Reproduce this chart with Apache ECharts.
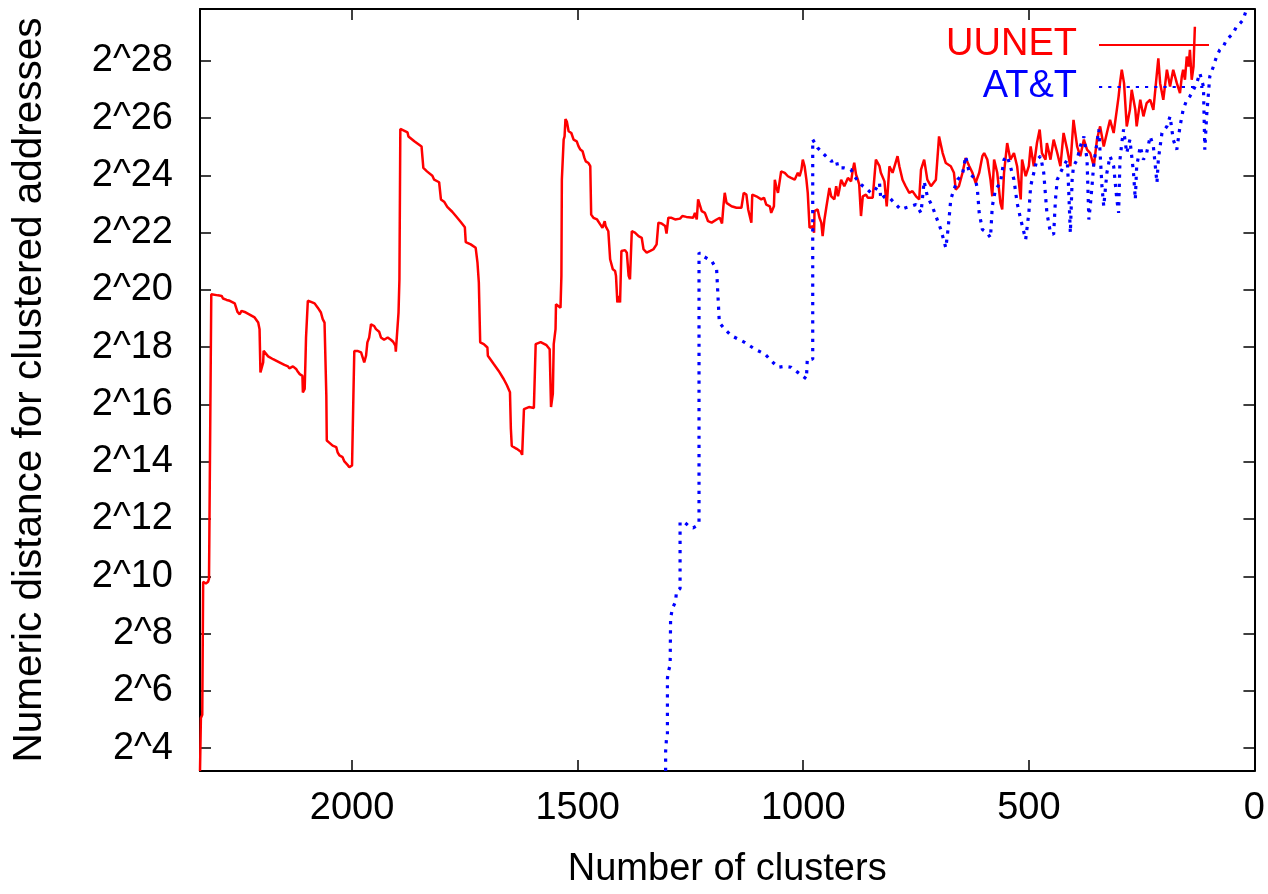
<!DOCTYPE html>
<html><head><meta charset="utf-8">
<script src="https://cdn.jsdelivr.net/npm/echarts@6/dist/echarts.min.js"></script>
<style>html,body{margin:0;padding:0;background:#fff}#c{width:1268px;height:894px}</style>
</head><body><div id="c"></div>
<script>
const xTicks = [0, 500, 1000, 1500, 2000];
const yTickExps = [4, 6, 8, 10, 12, 14, 16, 18, 20, 22, 24, 26, 28];
const seriesNames = ['UUNET', 'AT&T'];

const uunetClusters = [2337,2335,2332,2330,2324,2319,2317,2314,2312,2297,2289,2286,2278,2271,2260,2256,2254,2249,2245,2238,2227,2216,2208,2205,2203,2201,2197,2196,2192,2186,2175,2161,2150,2142,2139,2135,2131,2124,2120,2116,2110,2109,2105,2103,2102,2100,2098,2091,2083,2076,2069,2065,2061,2057,2056,2050,2043,2035,2032,2028,2021,2017,2010,2006,2002,2000,1997,1995,1988,1980,1977,1973,1969,1966,1962,1958,1951,1947,1940,1936,1929,1925,1921,1914,1909,1904,1903,1899,1897,1895,1893,1877,1875,1862,1846,1842,1834,1822,1818,1807,1803,1796,1789,1778,1770,1759,1750,1748,1737,1726,1722,1719,1716,1708,1700,1699,1686,1675,1664,1657,1650,1648,1646,1635,1626,1623,1619,1608,1597,1593,1582,1569,1562,1559,1555,1553,1549,1548,1538,1536,1535,1531,1529,1527,1524,1521,1520,1514,1509,1502,1498,1494,1489,1485,1482,1476,1472,1470,1465,1457,1450,1445,1440,1438,1432,1428,1424,1422,1417,1415,1412,1409,1406,1403,1395,1391,1387,1384,1380,1373,1365,1358,1354,1347,1339,1332,1325,1321,1314,1306,1303,1299,1292,1284,1273,1268,1259,1244,1240,1236,1233,1225,1218,1211,1203,1192,1185,1180,1177,1174,1170,1159,1148,1137,1132,1126,1122,1115,1113,1104,1093,1087,1082,1074,1071,1065,1063,1060,1056,1049,1041,1034,1027,1019,1012,1008,1004,1001,997,993,990,986,982,979,976,975,968,964,960,957,953,949,946,942,938,931,927,923,920,916,909,901,894,890,887,883,879,876,872,868,861,857,853,846,839,831,828,820,815,809,802,791,787,780,773,765,758,750,743,739,732,725,717,706,699,691,684,673,666,662,655,647,640,632,625,618,610,603,599,592,585,581,577,570,563,559,555,548,541,533,526,518,515,507,500,496,489,482,476,471,463,460,452,445,437,430,423,415,408,401,393,386,378,371,364,356,349,342,334,327,320,312,305,301,298,294,289,283,276,272,264,261,253,246,239,231,224,213,209,202,194,187,180,172,165,161,158,154,150,146,143,139,135,134,132];
const uunetExp = [3.20,5.05,5.16,9.81,9.75,9.81,9.92,9.92,19.85,19.81,19.79,19.70,19.65,19.62,19.53,19.50,19.23,19.15,19.27,19.23,19.14,19.04,18.86,18.63,17.12,17.06,17.47,17.87,17.82,17.68,17.58,17.47,17.38,17.33,17.26,17.29,17.33,17.24,17.14,17.06,17.00,16.42,16.54,17.70,18.34,18.40,19.62,19.58,19.53,19.38,19.21,18.98,18.86,16.31,14.74,14.66,14.56,14.51,14.33,14.22,14.16,14.01,13.89,13.81,13.81,13.87,16.31,17.87,17.87,17.82,17.76,17.47,17.70,18.17,18.34,18.80,18.74,18.63,18.54,18.34,18.26,18.31,18.34,18.26,18.19,18.05,17.84,17.79,19.21,20.37,25.62,25.50,25.36,25.19,25.01,24.26,24.14,23.99,23.85,23.76,23.16,23.08,22.90,22.73,22.58,22.37,22.19,21.67,21.59,21.47,20.95,20.26,18.17,18.11,17.99,17.70,17.41,17.17,16.89,16.68,16.43,15.15,14.55,14.45,14.35,14.24,15.84,15.91,15.88,18.11,18.18,18.07,17.93,15.91,16.37,18.11,18.63,19.50,19.38,20.49,23.85,25.25,25.36,25.97,25.88,25.94,25.54,25.48,25.25,25.19,25.01,24.90,24.84,24.61,24.49,24.43,24.32,22.63,22.52,22.46,22.29,22.17,22.40,22.23,22.05,21.07,21.01,20.72,20.66,20.49,19.56,19.79,19.56,21.36,21.39,21.30,20.49,20.37,22.05,22.00,21.88,21.82,21.42,21.30,21.36,21.42,21.59,22.35,22.32,22.23,21.97,22.52,22.52,22.46,22.49,22.58,22.55,22.52,22.69,22.46,23.16,22.75,22.69,22.40,22.35,22.46,22.52,22.32,22.92,23.39,23.04,22.92,22.87,22.87,23.39,23.33,22.81,22.35,23.33,23.27,23.16,23.22,22.98,22.92,22.69,22.92,23.85,23.62,23.39,24.14,24.09,23.97,23.91,23.85,24.09,23.97,24.20,24.55,24.32,23.85,23.39,22.17,22.11,22.23,22.00,22.75,22.81,22.52,22.35,21.88,22.46,22.87,22.81,23.56,23.27,23.16,23.62,23.27,23.50,23.85,23.62,23.91,23.79,24.20,24.44,24.03,23.85,23.68,22.58,23.27,23.33,23.22,23.16,23.22,24.55,24.32,24.09,23.79,22.92,24.32,24.09,24.67,24.32,23.85,23.62,23.39,23.45,23.27,23.16,24.20,24.55,23.85,23.62,23.85,25.36,24.78,24.43,24.32,24.09,23.50,23.62,24.09,24.61,24.32,24.09,23.74,24.09,24.67,24.78,24.55,23.85,23.27,24.55,24.09,23.04,22.81,24.09,25.13,24.55,24.78,24.32,23.16,24.55,23.97,24.32,25.01,24.32,25.13,25.60,24.78,24.55,25.13,24.55,25.25,24.78,24.32,25.48,24.90,24.32,25.94,25.01,24.67,25.25,24.90,24.78,24.32,25.25,25.71,25.01,25.48,25.94,25.48,26.29,26.76,27.22,27.69,27.22,25.71,26.29,26.99,26.29,25.71,26.64,26.06,26.52,26.64,26.29,28.09,27.22,26.64,27.69,27.10,27.69,27.22,26.87,27.45,27.69,27.34,28.15,27.80,28.38,27.34,27.80,28.28,29.19];

const attClusters = [1305,1305,1303,1301,1301,1299,1295,1294,1290,1283,1281,1273,1273,1262,1251,1244,1236,1231,1231,1222,1203,1192,1189,1186,1174,1159,1130,1107,1085,1071,1056,1041,1027,1012,993,991,979,979,968,953,938,927,923,909,894,887,872,857,850,842,831,828,820,809,798,784,773,761,750,739,732,725,714,706,695,684,680,677,673,666,658,647,640,632,625,618,614,610,603,592,585,581,574,563,555,548,541,533,526,518,507,504,500,496,489,482,474,467,460,452,445,441,437,430,423,415,412,408,404,401,393,386,378,371,367,364,360,356,349,345,342,338,334,327,320,312,305,301,298,294,290,283,276,268,264,261,253,246,239,231,224,216,213,205,194,187,180,172,165,158,150,143,135,128,121,113,110,106,99,91,84,77,69,62,55,47,40,32,25,18];
const attExp = [3.20,3.89,4.35,4.46,6.44,6.67,6.90,8.53,8.88,9.11,9.46,9.57,11.90,11.87,11.72,11.69,11.76,11.90,21.30,21.18,21.01,20.72,19.79,18.86,18.63,18.40,18.17,17.93,17.76,17.53,17.30,17.33,17.30,17.12,16.89,17.58,17.58,25.25,24.96,24.72,24.49,24.55,24.26,24.26,24.20,23.97,23.68,23.50,23.39,23.45,23.74,23.16,23.27,23.22,23.04,22.81,22.87,22.92,22.98,22.69,23.79,23.27,22.92,22.58,22.11,21.47,21.99,22.46,23.16,23.50,23.85,24.03,24.67,24.09,23.97,23.85,23.50,22.69,22.11,21.99,21.82,22.92,23.50,23.74,24.55,24.67,24.32,23.85,23.04,22.46,21.76,21.82,22.69,23.62,24.09,24.55,24.67,24.09,22.69,21.99,21.94,23.16,23.85,24.09,24.32,24.55,23.62,21.99,23.85,24.32,24.55,25.01,25.36,24.55,22.46,22.92,23.62,24.43,25.13,25.60,24.78,23.62,22.92,24.09,24.67,24.32,23.16,22.69,24.55,25.13,25.60,24.78,25.25,24.09,23.16,24.32,25.01,24.55,24.78,25.36,25.01,23.74,24.55,25.48,25.71,26.06,25.25,24.90,25.71,26.29,26.64,26.76,26.99,27.22,27.57,27.10,24.90,26.06,27.45,27.80,28.15,28.38,28.50,28.73,28.84,28.96,29.19,29.31,29.43,29.78];

const xMin = 0, xMax = 2337;
const yMin = 3.2, yMax = 29.81;

const FONT = "'Liberation Sans', Arial, Helvetica, sans-serif";
const zip = (a, b) => a.map((v, i) => [v, b[i]]);

const chart = echarts.init(document.getElementById('c'), null, {renderer: 'canvas'});
const axisLineStyle = {color: '#000', width: 2};
const tickStyle = {color: '#000', width: 1.5};

chart.setOption({
  animation: false,
  backgroundColor: '#fff',
  grid: {left: 200, right: 10, top: 9, bottom: 121, containLabel: false},
  legend: {
    orient: 'vertical', right: 53, top: 21, align: 'right',
    itemWidth: 110, itemHeight: 14, itemGap: 4,
    itemStyle: {opacity: 0},
    textStyle: {fontFamily: FONT, fontSize: 38, padding: [0, 17, 0, 0]},
    data: [
      {name: seriesNames[0], textStyle: {color: '#ff0000'}},
      {name: seriesNames[1], textStyle: {color: '#0000ff'}}
    ]
  },
  xAxis: [{
    type: 'value', inverse: true, min: xMin, max: xMax, position: 'bottom',
    name: 'Number of clusters', nameLocation: 'middle', nameGap: 80,
    nameTextStyle: {fontFamily: FONT, fontSize: 38, color: '#000'},
    axisLine: {show: true, onZero: false, lineStyle: axisLineStyle},
    axisTick: {show: true, inside: true, length: 11, lineStyle: tickStyle, customValues: xTicks},
    axisLabel: {show: true, customValues: xTicks, fontFamily: FONT, fontSize: 38, color: '#000', margin: 19,
      formatter: v => String(v)},
    splitLine: {show: false}
  }, {
    type: 'value', inverse: true, min: xMin, max: xMax, position: 'top',
    axisLine: {show: true, onZero: false, lineStyle: axisLineStyle},
    axisTick: {show: true, inside: true, length: 11, lineStyle: tickStyle, customValues: xTicks},
    axisLabel: {show: false},
    splitLine: {show: false}
  }],
  yAxis: [{
    type: 'value', min: yMin, max: yMax, position: 'left',
    name: 'Numeric distance for clustered addresses', nameLocation: 'middle', nameGap: 150,
    nameTextStyle: {fontFamily: FONT, fontSize: 40.5, color: '#000'},
    axisLine: {show: true, onZero: false, lineStyle: axisLineStyle},
    axisTick: {show: true, inside: true, length: 11, lineStyle: tickStyle, customValues: yTickExps},
    axisLabel: {show: true, customValues: yTickExps, fontFamily: FONT, fontSize: 38, color: '#000', margin: 27,
      formatter: v => '2^' + v},
    splitLine: {show: false}
  }, {
    type: 'value', min: yMin, max: yMax, position: 'right',
    axisLine: {show: true, onZero: false, lineStyle: axisLineStyle},
    axisTick: {show: true, inside: true, length: 11, lineStyle: tickStyle, customValues: yTickExps},
    axisLabel: {show: false},
    splitLine: {show: false}
  }],
  series: [{
    name: seriesNames[0], type: 'line', xAxisIndex: 0, yAxisIndex: 0,
    data: zip(uunetClusters, uunetExp), symbol: 'none', showSymbol: false,
    lineStyle: {color: '#ff0000', width: 2.5}, itemStyle: {color: '#ff0000'}, clip: true
  }, {
    name: seriesNames[1], type: 'line', xAxisIndex: 0, yAxisIndex: 0,
    data: zip(attClusters, attExp), symbol: 'none', showSymbol: false,
    lineStyle: {color: '#0000ff', width: 3.2, type: [3.2, 6], cap: 'butt'}, itemStyle: {color: '#0000ff'}, clip: true
  }]
});
</script>
</body></html>
